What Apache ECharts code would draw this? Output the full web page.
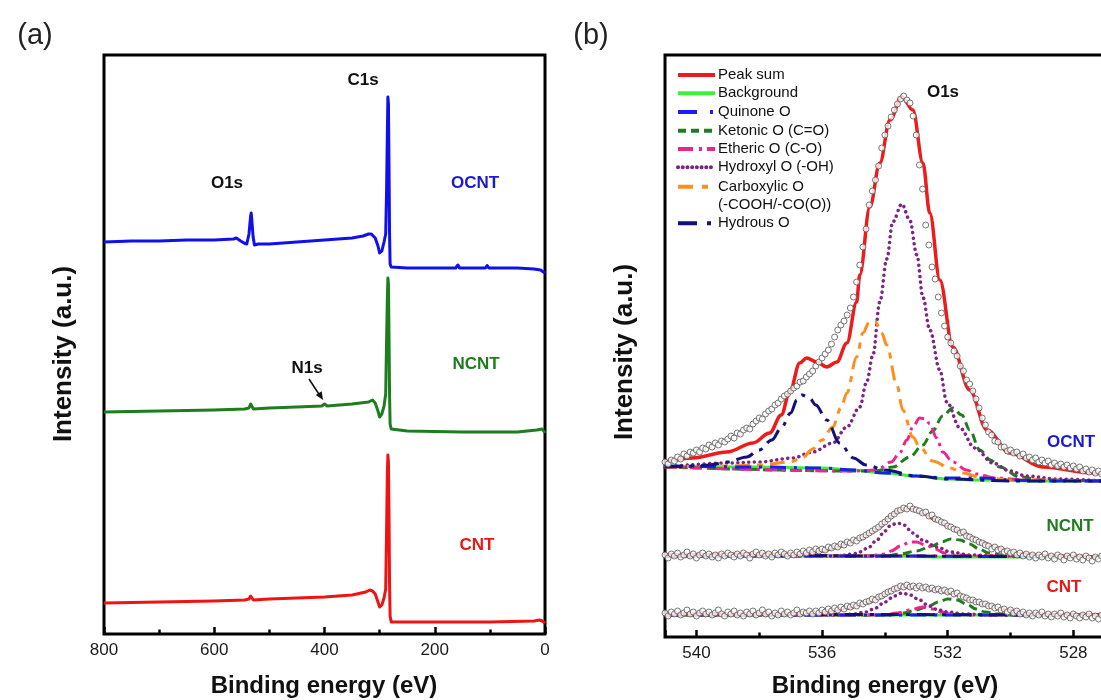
<!DOCTYPE html>
<html><head><meta charset="utf-8">
<script src="https://cdn.jsdelivr.net/npm/echarts@6/dist/echarts.min.js"></script>
<style>html,body{margin:0;padding:0;background:#fff}#c{width:1101px;height:700px}</style>
</head><body><div id="c"></div>
<script>
// ---------------- Panel (a): survey spectra [binding energy eV, intensity a.u.] ----------------
const surveyOCNT = [[800,392],[750,393],[700,393],[650,394],[600,394],[565,395],[560,396],[552,393],[546,391],[541,390],[537,400],[534,418],[533,421],[532,415],[529.5,397],[527,389],[520,390],[500,390],[450,392],[400,394],[350,396],[330,398],[320,400],[315,400],[308,396],[303,388],[300,381],[296,383],[292,392],[289,400],[287.5,440],[286,500],[285,537],[284,530],[283,470],[282,400],[281,370],[279,367],[250,366],[200,366],[162,366],[158,369],[155,366],[108,366],[105,368.5],[102,366],[50,366],[20,365],[8,364],[3,362],[0,361]];
const surveyNCNT = [[800,222],[700,223],[600,224],[545,225],[537,226],[534,230],[533,232],[531.5,229],[529,225],[500,226],[450,227],[405,228],[400,230],[395,228],[350,230],[320,232],[313,234],[308,231],[303,223],[300,217],[296,220],[292,228],[289,240],[287.5,290],[286,335],[285,356],[284,350],[283,300],[282,240],[281,210],[279,205],[250,203],[150,202],[50,202],[15,204],[5,205],[0,201]];
const surveyCNT = [[800,31],[700,32],[600,33],[545,34],[537,35],[534,38],[533,39],[531.5,37],[529,34],[500,35],[450,36],[400,37],[350,39],[325,42],[318,44],[313,43],[308,40],[303,32],[300,27],[296,29],[292,36],[289,45],[287.5,100],[286,160],[285,179],[284,172],[283,120],[282,50],[281,18],[279,12],[200,12],[100,12],[20,13],[10,14],[5,13],[0,11]];
const surveyTicks = [800, 600, 400, 200, 0];
const o1sTicks = [540, 536, 532, 528];

// ---------------- Panel (b): O1s high resolution ----------------
const bindE = [
541.0,540.9,540.8,540.7,540.6,540.5,540.4,540.3,540.2,540.1,
540.0,539.9,539.8,539.7,539.6,539.5,539.4,539.3,539.2,539.1,
539.0,538.9,538.8,538.7,538.6,538.5,538.4,538.3,538.2,538.1,
538.0,537.9,537.8,537.7,537.6,537.5,537.4,537.3,537.2,537.1,
537.0,536.9,536.8,536.7,536.6,536.5,536.4,536.3,536.2,536.1,
536.0,535.9,535.8,535.7,535.6,535.5,535.4,535.3,535.2,535.1,
535.0,534.9,534.8,534.7,534.6,534.5,534.4,534.3,534.2,534.1,
534.0,533.9,533.8,533.7,533.6,533.5,533.4,533.3,533.2,533.1,
533.0,532.9,532.8,532.7,532.6,532.5,532.4,532.3,532.2,532.1,
532.0,531.9,531.8,531.7,531.6,531.5,531.4,531.3,531.2,531.1,
531.0,530.9,530.8,530.7,530.6,530.5,530.4,530.3,530.2,530.1,
530.0,529.9,529.8,529.7,529.6,529.5,529.4,529.3,529.2,529.1,
529.0,528.9,528.8,528.7,528.6,528.5,528.4,528.3,528.2,528.1,
528.0,527.9,527.8,527.7,527.6,527.5,527.4,527.3,527.2,527.1,
527.0];
const measOCNT = [
175,173,177,176,180,178,183,181,185,184,
187,185,189,188,192,190,194,192,196,195,
198,201,199,204,203,207,209,208,213,216,
219,218,223,226,228,232,234,238,241,243,
246,249,251,255,256,260,263,266,271,275,
279,283,287,293,300,307,312,316,322,329,
340,355,372,390,408,432,446,457,471,489,
502,511,520,527,533,538,541,537,534,521,
502,472,448,412,392,370,358,340,324,311,
300,294,286,281,271,266,257,253,246,238,
229,219,212,205,202,196,195,190,190,186,
187,184,185,181,183,179,180,177,179,175,
177,174,176,172,174,171,173,170,172,169,
171,168,170,166,168,165,167,164,166,163,
165];
const measNCNT = [
82,79,83,81,84,80,82,85,81,83,
79,82,84,81,83,80,82,79,83,81,
84,82,80,83,81,84,82,79,83,85,
82,84,81,83,80,84,82,85,83,81,
84,82,85,83,86,84,87,85,88,86,
88,87,90,89,91,90,93,92,95,94,
97,96,99,100,102,104,106,108,110,113,
115,118,121,123,126,127,129,128,131,128,
127,126,124,125,121,122,118,117,115,114,
111,110,108,107,104,105,101,100,98,97,
95,94,92,91,88,90,87,88,85,86,
84,85,82,84,81,83,80,82,79,82,
80,83,79,81,78,82,80,77,81,79,
82,78,80,77,81,79,76,80,78,81,
78];
const measCNT = [
24,21,25,23,26,22,24,27,23,25,
21,24,26,23,25,22,24,27,23,21,
25,23,26,22,24,21,25,23,26,22,
24,27,23,25,21,24,22,26,23,25,
22,24,27,23,25,24,26,23,26,24,
27,25,28,26,29,27,30,28,31,30,
32,31,34,33,35,36,38,37,40,41,
43,45,46,48,49,51,50,52,50,51,
49,51,49,50,48,49,47,48,46,47,
45,46,43,44,41,40,39,37,37,35,
35,33,33,31,31,29,30,27,28,25,
27,24,26,23,25,22,24,21,24,22,
25,21,23,20,23,21,24,20,22,19,
23,21,19,22,20,23,19,21,18,22,
20];

// fitted components, OCNT
const sumO = [[541,175],[540.12,179],[539.03,185],[538.2,194],[537.67,204],[537.3,222],[537.03,245],[536.71,274],[536.49,279],[536.17,275],[535.85,270],[535.53,275],[535.21,294],[534.9,335],[534.8,362],[534.48,430],[534.16,474],[533.84,517],[533.46,540],[533.11,527],[532.79,474],[532.57,424],[532.25,357],[531.84,290],[531.3,247],[530.75,207],[530.02,184],[528.97,170],[527.38,164],[527,163]];
const bgO = [[541,171],[538,170],[536,169],[535,167],[534,164],[533,161],[532,158],[531,157],[529,156],[527,156]];
const quinO = [[541,171],[538,170],[536,169],[535,167],[534,164],[533,161],[532,159],[531.3,159],[530.8,159],[530,157],[529,156],[527,156]];
const ketoO = [[541,170],[535,166],[534.3,166],[533.75,170],[533.21,180],[532.79,192],[532.48,206],[532.16,221],[531.84,229],[531.55,222],[531.3,207],[530.98,187],[530.64,177],[530.34,170],[529.7,160],[529,157],[527,156]];
const etherO = [[541,170],[535,166],[534.26,167],[533.8,175],[533.53,184],[533.3,197],[533.11,210],[532.89,219],[532.7,218],[532.57,213],[532.35,199],[532.16,185],[531.84,175],[531.4,167],[531.07,163],[530.5,159],[529.5,157],[527,156]];
const hydroxO = [[541,170],[539,174],[538,175],[536.93,179],[536.3,185],[535.66,194],[535.21,210],[534.8,230],[534.58,255],[534.38,282],[534.16,335],[533.94,378],[533.75,415],[533.46,433],[533.21,417],[532.98,382],[532.79,340],[532.57,307],[532.25,267],[532.03,235],[531.61,209],[531.14,189],[530.56,174],[530.02,166],[529.5,161],[528.5,158],[527,156]];
const carbO = [[541,170],[539,171],[538,172],[537,175],[536.6,180],[536.3,188],[536,197],[535.66,210],[535.4,229],[535.21,244],[534.9,280],[534.7,304],[534.5,315],[534.3,315],[534.1,304],[533.94,292],[533.62,252],[533.43,227],[533.11,200],[532.89,190],[532.48,176],[531.93,169],[531.5,164],[531,160],[530,157],[527,156]];
const hydrousO = [[541,170],[540,171],[539.6,172],[539,175],[538.4,180],[538,187],[537.6,197],[537.3,209],[537,224],[536.8,237],[536.65,242],[536.4,239],[536.2,232],[535.85,217],[535.44,194],[535,179],[534.6,172],[534,167],[533,161],[532,158],[530,156],[527,156]];

// fitted components, NCNT
const sumN = [[541,82],[537,83],[536.5,84],[536,86],[535.5,90],[535.2,94],[534.8,98],[534.4,105],[534.16,110],[533.84,120],[533.53,127],[533.21,129],[532.79,124],[532.35,117],[531.93,110],[531.52,104],[530.98,95],[530.44,89],[529.93,84],[528.84,81],[527,80]];
const bgN = [[541,81],[534,81],[532,80],[527,80]];
const quinN = [[541,81],[533,81],[531,80.5],[527,80]];
const ketoN = [[541,81],[534,81],[533.5,83],[533,86],[532.5,91],[532.2,95],[531.9,98],[531.6,97],[531.3,93],[531,88],[530.7,84],[530.3,82],[529.5,81],[527,80]];
const etherN = [[541,81],[534.5,81],[534,83],[533.8,86],[533.5,91],[533.2,95],[533,95],[532.7,92],[532.4,88],[532.1,84],[531.7,82],[531,81],[527,80]];
const hydroxN = [[541,81],[535.5,81],[535,83],[534.8,85],[534.5,90],[534.26,97],[534,106],[533.8,112],[533.6,114],[533.4,112],[533.11,104],[532.8,97],[532.35,90],[531.9,85],[531.3,82],[530,81],[527,80]];
const carbN = [[541,81],[535,81],[534.4,82],[534,81.5],[533,81],[527,80]];
const hydrousN = [[541,81],[537,81.5],[536.5,82],[536,81.5],[535,81],[527,80]];

// fitted components, CNT
const sumC = [[541,23],[537,23],[536.5,24],[536,25],[535.5,27],[535.2,29],[534.6,34],[534.1,40],[533.84,46],[533.43,50],[532.9,50],[532.35,47],[531.84,44],[531.3,37],[530.75,32],[530.2,27],[529.35,23],[527.8,22],[527,22]];
const bgC = [[541,22],[527,22]];
const quinC = [[541,22],[532,22],[527,22]];
const ketoC = [[541,22],[533.8,22],[533.4,24],[533,27],[532.6,31],[532.3,35],[532,38],[531.7,37],[531.4,33],[531.1,28],[530.8,25],[530.4,23],[530,22],[527,22]];
const etherC = [[541,22],[534,22],[533.6,24],[533.2,27],[532.8,30],[532.5,28],[532.2,25],[531.9,23],[531,22],[527,22]];
const hydroxC = [[541,22],[535.5,22],[535,23],[534.6,25],[534.3,29],[534,35],[533.7,41],[533.45,44],[533.2,42],[532.9,37],[532.6,31],[532.3,27],[532,25],[531.5,23],[530.5,22],[527,22]];
const carbC = [[541,22],[534.4,22.5],[527,22]];
const hydrousC = [[541,22],[536.6,22.5],[527,22]];

const legendNames = ['Peak sum','Background','Quinone O','Ketonic O (C=O)','Etheric O (C-O)','Hydroxyl O (-OH)','Carboxylic O','Hydrous O'];
const legendSub = '(-COOH/-CO(O))';
const samples = ['OCNT','NCNT','CNT'];

// ---------------- styles ----------------
const FONT = "'Liberation Sans', Arial, sans-serif";
const STY = {
  sum:    {color:'#ee1b1b', width:3.5, type:'solid'},
  bg:     {color:'#3cf03c', width:3, type:'solid'},
  quin:   {color:'#1d1df0', width:3, type:[16,8,3,8]},
  keto:   {color:'#1f7d1f', width:3, type:[9,5]},
  ether:  {color:'#f0238c', width:3, type:[12,5,3,5]},
  hydrox: {color:'#7d2487', width:3.5, type:[0.1,5.5], cap:'round'},
  carb:   {color:'#ff8e1e', width:3, type:[15,7,6,7]},
  hydrous:{color:'#12127a', width:3, type:[18,7,4,7]}
};
const legendKeys = ['sum','bg','quin','keto','ether','hydrox','carb','hydrous'];
const legendLineDash = {sum:null, bg:null, quin:[19,13,3,20], keto:[8,5], ether:[15,6,3,5], hydrox:[0.1,4.6], carb:[15,9,6,20], hydrous:[19,10,4,20]};
const sampleColor = {OCNT:'#1a1ad6', NCNT:'#1e7d1e', CNT:'#e81818'};

function lineS(name, data, sty, idx, z) {
  return {type:'line', name, xAxisIndex:idx, yAxisIndex:idx, data, showSymbol:false, symbol:'none',
    smooth: idx === 1 ? 0.35 : false, smoothMonotone: 'x', silent:true, z: z || 2,
    lineStyle:{color:sty.color, width:sty.width, type:sty.type, cap:sty.cap || 'butt', join:'round'}};
}

const series = [];
series.push(lineS('OCNT', surveyOCNT, {color:'#1010ee', width:3, type:'solid'}, 0));
series.push(lineS('NCNT', surveyNCNT, {color:'#1e7d1e', width:3, type:'solid'}, 0));
series.push(lineS('CNT', surveyCNT, {color:'#ee1414', width:3, type:'solid'}, 0));

const fits = [
  {meas:measOCNT, sum:sumO, bg:bgO, quin:quinO, keto:ketoO, ether:etherO, hydrox:hydroxO, carb:carbO, hydrous:hydrousO},
  {meas:measNCNT, sum:sumN, bg:bgN, quin:quinN, keto:ketoN, ether:etherN, hydrox:hydroxN, carb:carbN, hydrous:hydrousN},
  {meas:measCNT, sum:sumC, bg:bgC, quin:quinC, keto:ketoC, ether:etherC, hydrox:hydroxC, carb:carbC, hydrous:hydrousC}
];
fits.forEach((f, k) => {
  ['bg','keto','ether','hydrox','carb','quin','hydrous'].forEach(key => {
    series.push(lineS(samples[k] + ' ' + key, f[key], STY[key], 1, 3));
  });
  series.push(lineS(samples[k] + ' sum', f.sum, STY.sum, 1, 4));
  series.push({type:'scatter', xAxisIndex:1, yAxisIndex:1, silent:true, z:5,
    data: bindE.map((e, i) => [e, f.meas[i]]), symbol:'circle', symbolSize:6,
    itemStyle:{color:'#ffffff', borderColor:'#555555', borderWidth:1}});
});

// ---------------- graphic texts / legend ----------------
const g = [];
function txt(text, x, y, size, weight, color, rot) {
  g.push({type:'text', x, y, rotation: rot || 0, silent:true, z:20,
    style:{text, fontSize:size, fontWeight:weight, fontFamily:FONT, fill:color, align:'center', verticalAlign:'middle'}});
}
txt('(a)', 35, 36, 29, 'normal', '#222');
txt('(b)', 591, 36, 29, 'normal', '#222');
txt('Intensity (a.u.)', 64, 354, 26, 'bold', '#111', Math.PI/2);
txt('Intensity (a.u.)', 625, 352, 26, 'bold', '#111', Math.PI/2);
txt('Binding energy (eV)', 324, 686, 24, 'bold', '#111');
txt('Binding energy (eV)', 885, 686, 24, 'bold', '#111');
txt('C1s', 363, 80, 17, 'bold', '#111');
txt('O1s', 227, 183, 17, 'bold', '#111');
txt('N1s', 307, 368, 17, 'bold', '#111');
txt('OCNT', 475, 183, 17, 'bold', sampleColor.OCNT);
txt('NCNT', 476, 364, 17, 'bold', sampleColor.NCNT);
txt('CNT', 477, 545, 17, 'bold', sampleColor.CNT);
txt('O1s', 943, 92, 17, 'bold', '#111');
txt('OCNT', 1071, 442, 17, 'bold', sampleColor.OCNT);
txt('NCNT', 1070, 526, 17, 'bold', sampleColor.NCNT);
txt('CNT', 1064, 587, 17, 'bold', sampleColor.CNT);
// N1s arrow
g.push({type:'line', silent:true, z:20, shape:{x1:309, y1:379, x2:319.5, y2:395}, style:{stroke:'#111', lineWidth:1.6}});
g.push({type:'polygon', silent:true, z:20, shape:{points:[[323,400],[321.7,391.3],[315.8,395.1]]}, style:{fill:'#111'}});

// legend (b)
const rowY = [75, 93.3, 112, 130.7, 149, 167.3, 186.7, 223.3];
legendKeys.forEach((key, i) => {
  const s = STY[key];
  g.push({type:'line', silent:true, z:20, shape:{x1:678, y1:rowY[i], x2:715, y2:rowY[i]},
    style:{stroke:s.color, lineWidth:4, lineDash:legendLineDash[key], lineCap: key === 'hydrox' ? 'round' : 'butt'}});
  g.push({type:'text', silent:true, z:20, x:718, y:rowY[i],
    style:{text:legendNames[i], fontSize:15, fontFamily:FONT, fill:'#111', align:'left', verticalAlign:'middle'}});
});
g.push({type:'text', silent:true, z:20, x:718, y:205,
  style:{text:legendSub, fontSize:15, fontFamily:FONT, fill:'#111', align:'left', verticalAlign:'middle'}});

const axisLbl = {fontSize:17, color:'#1a1a1a', fontFamily:FONT, margin:8};
const majorTick = {inside:true, length:7, lineStyle:{color:'#000', width:2.5}};
const minorTick = {show:true, splitNumber:2, length:4.5, lineStyle:{color:'#000', width:2.5}};
const option = {
  animation:false,
  backgroundColor:'#ffffff',
  grid:[
    {left:104, right:556, top:55, bottom:66, show:true, borderColor:'#000', borderWidth:3, backgroundColor:'transparent', outerBoundsMode:'none'},
    {left:665, right:-98, top:55, bottom:63, show:true, borderColor:'#000', borderWidth:3, backgroundColor:'transparent', outerBoundsMode:'none'}
  ],
  xAxis:[
    {gridIndex:0, type:'value', min:0, max:800, interval:200, inverse:true,
      axisLine:{show:false}, splitLine:{show:false}, minorSplitLine:{show:false},
      axisTick:majorTick, minorTick:minorTick,
      axisLabel:Object.assign({formatter: v => surveyTicks.indexOf(v) >= 0 ? String(v) : ''}, axisLbl)},
    {gridIndex:1, type:'value', min:524, max:541, interval:4, inverse:true,
      axisLine:{show:false}, splitLine:{show:false}, minorSplitLine:{show:false},
      axisTick:majorTick, minorTick:minorTick,
      axisLabel:Object.assign({formatter: v => o1sTicks.indexOf(v) >= 0 ? String(v) : ''}, axisLbl)}
  ],
  yAxis:[
    {gridIndex:0, type:'value', min:0, max:579, show:false},
    {gridIndex:1, type:'value', min:0, max:582, show:false}
  ],
  series,
  graphic: g
};
const chart = echarts.init(document.getElementById('c'), null, {renderer:'canvas'});
chart.setOption(option);
</script></body></html>
